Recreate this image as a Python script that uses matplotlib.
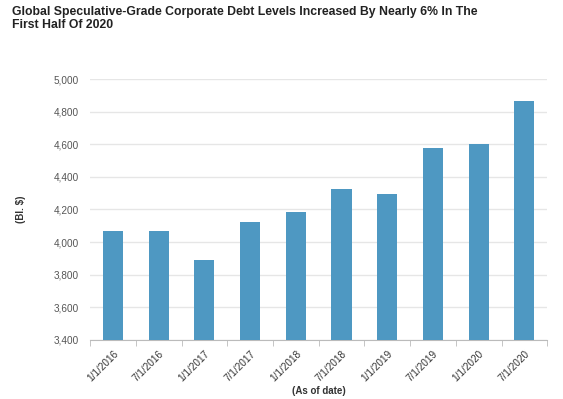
import numpy as np
import matplotlib
matplotlib.use("Agg")
import matplotlib.pyplot as plt
from matplotlib.ticker import FuncFormatter, FixedLocator

# Дані
dates = ["1/1/2016", "7/1/2016", "1/1/2017", "7/1/2017", "1/1/2018",
         "7/1/2018", "1/1/2019", "7/1/2019", "1/1/2020", "7/1/2020"]
debt = [4069, 4069, 3891, 4125, 4186, 4327, 4296, 4578, 4603, 4863]
y_ticks = [3400, 3600, 3800, 4000, 4200, 4400, 4600, 4800, 5000]

plt.rcParams["font.family"] = ["Liberation Sans", "DejaVu Sans"]

fig = plt.figure(figsize=(5.63, 3.99), dpi=100)
ax = fig.add_axes([0.160, 0.148, 0.812, 0.654])

x = np.arange(len(dates))
ax.bar(x, debt, width=0.44, color="#4e98c2", zorder=3)

ax.set_xlim(-0.5, len(dates) - 0.5)
ax.set_ylim(3400, 5000)
ax.set_yticks(y_ticks)
ax.yaxis.set_major_formatter(FuncFormatter(lambda v, p: f"{int(v):,}"))
ax.grid(axis="y", color="#e6e6e6", linewidth=1, zorder=0)

ax.set_xticks(x)
ax.set_xticklabels(dates, rotation=45, ha="right", rotation_mode="anchor")
ax.xaxis.set_minor_locator(FixedLocator(np.arange(-0.5, len(dates), 1)))
ax.tick_params(axis="x", which="major", length=0, pad=6, labelsize=7.2, labelcolor="#333333")
ax.tick_params(axis="x", which="minor", length=4, color="#bbbbbb", direction="out")
ax.tick_params(axis="y", length=0, pad=8, labelsize=7.2, labelcolor="#555555")

for side in ["top", "right", "left"]:
    ax.spines[side].set_visible(False)
ax.spines["bottom"].set_color("#bbbbbb")

ax.set_ylabel("(Bl. $)", fontsize=7, fontweight="bold", color="#333333", labelpad=20)
ax.set_xlabel("(As of date)", fontsize=7, fontweight="bold", color="#333333", labelpad=2)

fig.text(0.021, 0.985, "Global Speculative-Grade Corporate Debt Levels Increased By Nearly 6% In The\nFirst Half Of 2020",
         fontsize=8.8, fontweight="bold", color="#222222", va="top", ha="left", linespacing=1.15)

fig.savefig("out.png", dpi=100)
